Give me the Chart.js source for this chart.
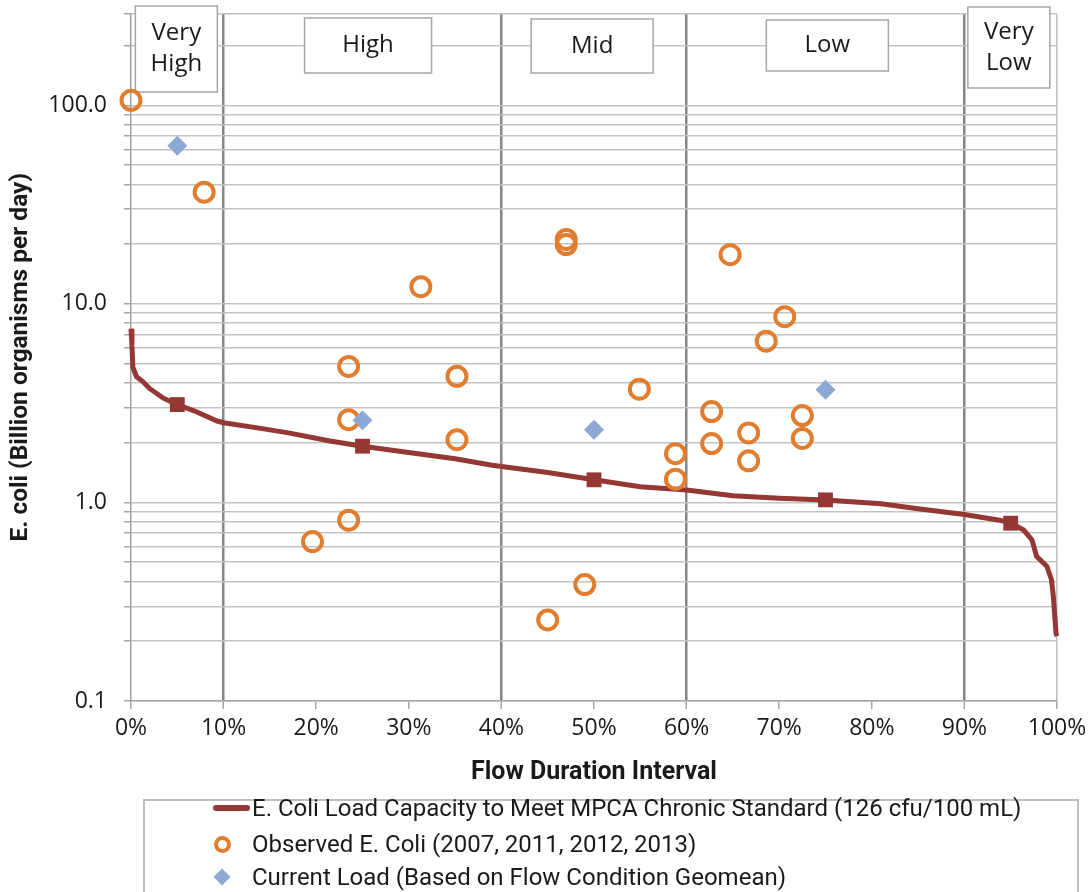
<!DOCTYPE html>
<html>
<head>
<meta charset="utf-8">
<script src="https://cdn.jsdelivr.net/npm/chart.js@4.4.1/dist/chart.umd.min.js"></script>
<style>
  html, body { margin: 0; padding: 0; background: #ffffff; overflow: hidden; }
  #wrap { position: relative; width: 1089px; height: 892px; }
  #legend {
    position: absolute; left: 143px; top: 799px; width: 936px; height: 120px;
    border: 2px solid #bfbfbf; box-sizing: border-box; background: #fff;
    font-family: Roboto, "Liberation Sans", sans-serif; font-size: 24px; color: #1a1a1a;
  }
  .txt { position: absolute; left: 107px; height: 34px; line-height: 34px; white-space: nowrap; }
  .sym { position: absolute; box-sizing: border-box; }
</style>
</head>
<body>
<div id="wrap">
  <canvas id="c" width="1089" height="892"></canvas>
  <div id="legend"></div>
</div>
<script>
// ---------------- data ----------------
const seriesLabels = [
  'E. Coli Load Capacity to Meet MPCA Chronic Standard (126 cfu/100 mL)',
  'Observed E. Coli (2007, 2011, 2012, 2013)',
  'Current Load (Based on Flow Condition Geomean)'
];
// load duration curve (flow duration interval %, billion organisms/day)
const capX = [0, 0.1, 0.2, 0.6, 1.3, 2, 3.5, 5, 7, 9.3, 10, 14, 17, 21.5, 25, 31, 35, 39, 45, 50, 55, 60, 65, 70, 75, 81, 85, 90, 93.8, 95, 96.4, 97.3, 97.8, 98.9, 99.4, 99.6, 99.9, 100];
const capY = [7.5, 6.2, 4.8, 4.3, 4.05, 3.75, 3.35, 3.11, 2.87, 2.57, 2.52, 2.36, 2.24, 2.04, 1.92, 1.76, 1.66, 1.54, 1.415, 1.30, 1.20, 1.155, 1.08, 1.05, 1.03, 0.985, 0.93, 0.87, 0.814, 0.786, 0.726, 0.647, 0.535, 0.477, 0.409, 0.338, 0.218, 0.212];
const capMarkerX = [5, 25, 50, 75, 95];
// observed samples
const obsX = [0, 7.9, 19.6, 23.5, 23.5, 23.5, 31.3, 35.2, 35.2, 45.0, 47.0, 47.0, 49.0, 54.9, 58.8, 58.8, 62.7, 62.7, 64.7, 66.7, 66.7, 68.6, 70.6, 72.5, 72.5];
const obsY = [106, 36.5, 0.635, 4.84, 2.61, 0.814, 12.2, 4.32, 2.07, 0.256, 21.1, 19.9, 0.386, 3.72, 1.76, 1.31, 2.87, 1.98, 17.7, 2.24, 1.62, 6.49, 8.62, 2.74, 2.10];
// current load (geomean per flow condition)
const curX = [5, 25, 50, 75];
const curY = [62.5, 2.59, 2.32, 3.69];
// zone labels
const zoneLabels = [['Very', 'High'], ['High'], ['Mid'], ['Low'], ['Very', 'Low']];
const zoneBoundaries = [10, 40, 60, 90];
// axis ticks
const xTickValues = [0, 10, 20, 30, 40, 50, 60, 70, 80, 90, 100];
const xTickLabels = ['0%', '10%', '20%', '30%', '40%', '50%', '60%', '70%', '80%', '90%', '100%'];
const yTickValues = [0.1, 1, 10, 100];
const yTickLabels = ['0.1', '1.0', '10.0', '100.0'];
const yMin = 0.1, yMax = 290;

// ---------------- helpers ----------------
const toPts = (xs, ys) => xs.map((x, i) => ({ x: x, y: ys[i] }));
const yGrid = [];
for (let e = -1; e <= 2; e++) {
  for (let m = 1; m <= 9; m++) {
    const v = Number((m * Math.pow(10, e)).toPrecision(3));
    if (v >= yMin && v <= yMax) yGrid.push(v);
  }
}
yGrid.push(yMax);
const near = (a, b) => Math.abs(a - b) < 1e-9 * Math.max(1, Math.abs(b));

const RED = '#953735', ORANGE = '#E07D2E', BLUE = '#8DA8D3';
const TICKFONT = { family: '"Open Sans", "Noto Sans", sans-serif', size: 23 };

// ---------------- zone box plugin ----------------
const zonePlugin = {
  id: 'zones',
  beforeDatasetsDraw(chart, args, opts) {
    const ctx = chart.ctx, xs = chart.scales.x;
    ctx.save();
    zoneLabels.forEach((lines, i) => {
      const b = opts.boxes[i];
      const cx = xs.getPixelForValue(b.center);
      const left = cx - b.w / 2;
      ctx.fillStyle = '#ffffff';
      ctx.fillRect(left, b.top, b.w, b.h);
      ctx.strokeStyle = '#a6a6a6';
      ctx.lineWidth = 1.5;
      ctx.strokeRect(left, b.top, b.w, b.h);
      ctx.fillStyle = '#1a1a1a';
      ctx.font = '24px "Open Sans", "Noto Sans", sans-serif';
      ctx.textAlign = 'center';
      ctx.textBaseline = 'middle';
      const lh = 31;
      const cy = b.top + b.h / 2;
      lines.forEach((t, k) => {
        ctx.fillText(t, cx, cy + (k - (lines.length - 1) / 2) * lh);
      });
    });
    ctx.restore();
  }
};

// ---------------- chart ----------------
const chart = new Chart(document.getElementById('c'), {
  type: 'scatter',
  data: {
    datasets: [
      {
        label: seriesLabels[0],
        data: toPts(capX, capY),
        showLine: true,
        borderColor: RED,
        backgroundColor: RED,
        borderWidth: 5,
        tension: 0,
        pointStyle: 'rect',
        pointRadius: ctx => (ctx.raw && capMarkerX.some(v => near(v, ctx.raw.x)) ? 10.5 : 0),
        pointBorderWidth: 0,
        pointHoverRadius: 0,
        order: 3,
        clip: false
      },
      {
        label: seriesLabels[1],
        data: toPts(obsX, obsY),
        showLine: false,
        borderColor: ORANGE,
        backgroundColor: 'rgba(0,0,0,0)',
        pointStyle: 'circle',
        pointRadius: 9.5,
        pointBorderWidth: 4,
        order: 2,
        clip: false
      },
      {
        label: seriesLabels[2],
        data: toPts(curX, curY),
        showLine: false,
        borderColor: BLUE,
        backgroundColor: BLUE,
        pointStyle: 'rectRot',
        pointRadius: 10,
        pointBorderWidth: 0,
        order: 1,
        clip: false
      }
    ]
  },
  options: {
    responsive: false,
    animation: false,
    devicePixelRatio: 1,
    layout: { padding: { left: 0, top: 6, right: 32, bottom: 101 } },
    plugins: {
      legend: { display: false },
      tooltip: { enabled: false },
      zones: {
        boxes: [
          { center: 4.9, w: 82, top: 6, h: 86 },
          { center: 25.6, w: 127, top: 18, h: 55 },
          { center: 49.8, w: 122, top: 19, h: 54 },
          { center: 75.2, w: 122, top: 20, h: 51 },
          { center: 94.8, w: 82, top: 7, h: 81 }
        ]
      }
    },
    scales: {
      x: {
        type: 'linear',
        min: 0, max: 100,
        afterBuildTicks: s => { s.ticks = xTickValues.map(v => ({ value: v })); },
        afterFit: s => { s.height = 90; s.paddingLeft = 0; s.paddingRight = 0; },
        ticks: {
          font: TICKFONT, color: '#1a1a1a', padding: 6, maxRotation: 0, autoSkip: false,
          callback: (v) => { const i = xTickValues.findIndex(t => near(t, v)); return i >= 0 ? xTickLabels[i] : ''; }
        },
        grid: {
          color: c => {
            const v = c.tick ? c.tick.value : null;
            if (zoneBoundaries.includes(v)) return '#868686';
            if (v === 100) return '#bfbfbf';
            return 'rgba(0,0,0,0)';
          },
          lineWidth: c => (c.tick && zoneBoundaries.includes(c.tick.value) ? 2.5 : 1.5),
          tickColor: '#a6a6a6', tickLength: 8, tickWidth: 1.5
        },
        border: { display: true, color: '#a6a6a6', width: 1.5 },
        title: {
          display: true, text: 'Flow Duration Interval', color: '#1a1a1a',
          font: { family: 'Roboto, "Liberation Sans", sans-serif', size: 25, weight: 'bold' },
          padding: { top: 0, bottom: 3 }
        }
      },
      y: {
        type: 'logarithmic',
        min: yMin, max: yMax,
        afterBuildTicks: s => { s.ticks = yGrid.map(v => ({ value: v })); },
        afterFit: s => { s.width = 131; s.paddingTop = 0; s.paddingBottom = 0; },
        ticks: {
          font: TICKFONT, color: '#1a1a1a', padding: 17, autoSkip: false,
          callback: (v) => { const i = yTickValues.findIndex(t => near(t, v)); return i >= 0 ? yTickLabels[i] : ''; }
        },
        grid: { color: '#c3c3c3', lineWidth: 1.5, tickColor: '#a6a6a6', tickLength: 7, tickWidth: 1.5 },
        border: { display: true, color: '#a0a0a0', width: 1.5 },
        title: {
          display: true, text: 'E. coli (Billion organisms per day)', color: '#1a1a1a',
          font: { family: 'Roboto, "Liberation Sans", sans-serif', size: 24.5, weight: 'bold' },
          padding: { top: 6, bottom: 0 }
        }
      }
    }
  },
  plugins: [zonePlugin]
});

// ---------------- HTML legend ----------------
(function buildLegend() {
  const lg = document.getElementById('legend');
  const rowsTop = [7, 43, 76];
  const ds = chart.data.datasets;
  ds.forEach((d, i) => {
    const cy = rowsTop[i];
    const sym = document.createElement('div');
    sym.className = 'sym';
    if (i === 0) {
      Object.assign(sym.style, { left: '68px', top: (cy - 3) + 'px', width: '37px', height: '6px', background: d.borderColor, borderRadius: '3px' });
    } else if (i === 1) {
      Object.assign(sym.style, { left: '69px', top: (cy - 8.5) + 'px', width: '17px', height: '17px', border: '4px solid ' + d.borderColor, borderRadius: '50%' });
    } else {
      Object.assign(sym.style, { left: '71px', top: (cy - 6) + 'px', width: '12px', height: '12px', background: d.backgroundColor, transform: 'rotate(45deg)' });
    }
    lg.appendChild(sym);
    const t = document.createElement('div');
    t.className = 'txt';
    t.style.top = (cy - 17) + 'px';
    t.textContent = d.label;
    lg.appendChild(t);
  });
})();
</script>
</body>
</html>
